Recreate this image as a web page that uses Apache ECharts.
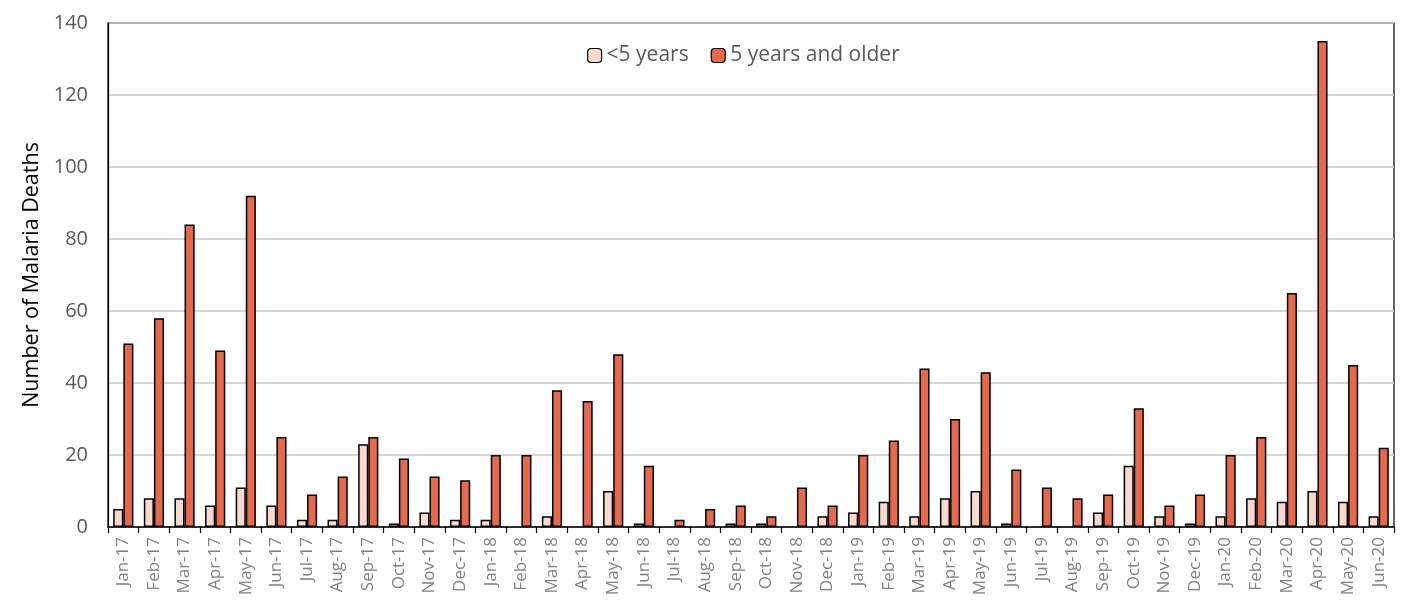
<!DOCTYPE html>
<html>
<head>
<meta charset="utf-8">
<script src="https://cdn.jsdelivr.net/npm/echarts@6/dist/echarts.min.js"></script>
<style>
  html, body { margin: 0; padding: 0; background: #fff; }
  #chart { width: 1417px; height: 605px; }
</style>
</head>
<body>
<div id="chart"></div>
<script>
const months = [
  'Jan-17', 'Feb-17', 'Mar-17', 'Apr-17', 'May-17', 'Jun-17', 'Jul-17', 'Aug-17', 'Sep-17', 'Oct-17', 'Nov-17', 'Dec-17',
  'Jan-18', 'Feb-18', 'Mar-18', 'Apr-18', 'May-18', 'Jun-18', 'Jul-18', 'Aug-18', 'Sep-18', 'Oct-18', 'Nov-18', 'Dec-18',
  'Jan-19', 'Feb-19', 'Mar-19', 'Apr-19', 'May-19', 'Jun-19', 'Jul-19', 'Aug-19', 'Sep-19', 'Oct-19', 'Nov-19', 'Dec-19',
  'Jan-20', 'Feb-20', 'Mar-20', 'Apr-20', 'May-20', 'Jun-20',
];
const under5 = [
  5, 8, 8, 6, 11, 6, 2, 2, 23, 1, 4, 2,
  2, 0, 3, 0, 10, 1, 0, 0, 1, 1, 0, 3,
  4, 7, 3, 8, 10, 1, 0, 0, 4, 17, 3, 1,
  3, 8, 7, 10, 7, 3,
];
const over5 = [
  51, 58, 84, 49, 92, 25, 9, 14, 25, 19, 14, 13,
  20, 20, 38, 35, 48, 17, 2, 5, 6, 3, 11, 6,
  20, 24, 44, 30, 43, 16, 11, 8, 9, 33, 6, 9,
  20, 25, 65, 135, 45, 22,
];

const FONT = '"Open Sans"';
const COLORS = { under5: '#F9D8CE', over5: '#E8694A' };

// zero months show no bar at all, so drop the outline there
function barData(values) {
  return values.map(v => (v === 0 ? { value: v, itemStyle: { borderWidth: 0 } } : v));
}

const chart = echarts.init(document.getElementById('chart'));

chart.setOption({
  animation: false,
  textStyle: { fontFamily: FONT },
  grid: {
    left: 108, right: 23, top: 23, bottom: 78,
    show: true, borderColor: '#000', borderWidth: 1.2,
  },
  legend: {
    top: 40,
    left: 582,
    itemWidth: 14,
    itemHeight: 14,
    itemGap: 22,
    itemStyle: { borderColor: '#000', borderWidth: 1.2 },
    textStyle: { fontFamily: FONT, fontSize: 21, color: '#595959' },
    data: ['<5 years', '5 years and older'],
  },
  xAxis: {
    type: 'category',
    data: months,
    axisLine: { lineStyle: { color: '#000', width: 1.5 } },
    axisTick: { show: true, length: 6, lineStyle: { color: '#000', width: 1.2 } },
    axisLabel: {
      rotate: 90,
      interval: 0,
      fontFamily: FONT,
      fontSize: 17,
      color: '#808080',
      margin: 10,
    },
  },
  yAxis: {
    type: 'value',
    min: 0,
    max: 140,
    interval: 20,
    name: 'Number of Malaria Deaths',
    nameLocation: 'middle',
    nameGap: 63,
    nameTextStyle: { fontFamily: FONT, fontSize: 21.5, color: '#000' },
    axisLine: { show: true, lineStyle: { color: '#000', width: 1.2 } },
    axisTick: { show: false },
    axisLabel: { fontFamily: FONT, fontSize: 20, color: '#595959', margin: 20 },
    splitLine: { lineStyle: { color: '#c8c8c8', width: 1.5 } },
  },
  series: [
    {
      name: '<5 years',
      type: 'bar',
      data: barData(under5),
      barGap: '0%',
      barCategoryGap: '34%',
      itemStyle: { color: COLORS.under5, borderColor: '#000', borderWidth: 1.5 },
    },
    {
      name: '5 years and older',
      type: 'bar',
      data: barData(over5),
      barGap: '0%',
      barCategoryGap: '34%',
      itemStyle: { color: COLORS.over5, borderColor: '#000', borderWidth: 1.5 },
    },
  ],
});
</script>
</body>
</html>
